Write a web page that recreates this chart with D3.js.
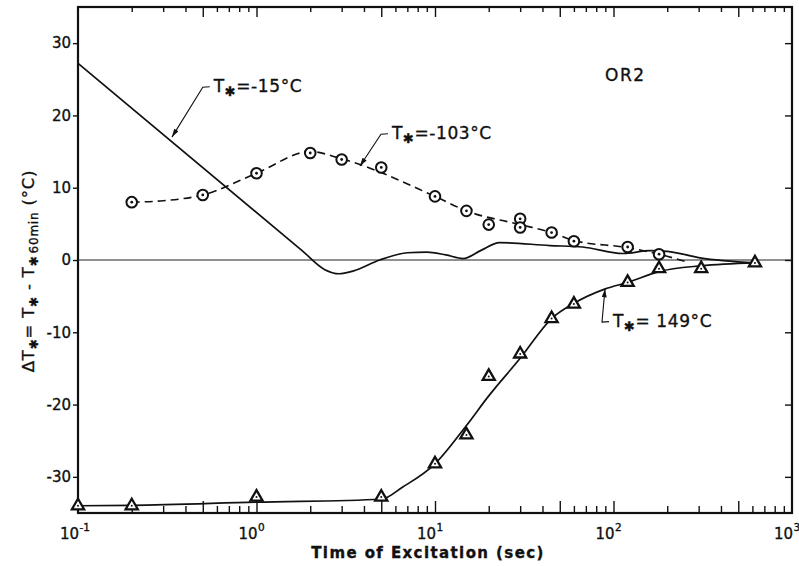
<!DOCTYPE html>
<html>
<head>
<meta charset="utf-8">
<script src="https://cdn.jsdelivr.net/npm/d3@7"></script>
<style>
  body { margin: 0; background: #fff; }
  text { font-family: "DejaVu Sans", sans-serif; fill: #111; stroke: #111; stroke-width: 0.35px; }
</style>
</head>
<body>
<svg id="chart" width="799" height="566"></svg>
<script>
// axis setup
const xDomain = [0.1, 1000];
const yDomain = [-35, 35];
const yTickValues = [-30, -20, -10, 0, 10, 20, 30];
const xDecades = [0.1, 1, 10, 100, 1000];
const xDecadeExp = ["-1", "0", "1", "2", "3"];

// T* = 149 C : triangles + solid curve
const triTimes  = [0.1, 0.2, 1, 5, 10, 15, 20, 30, 45, 60, 120, 180, 310, 620];
const triValues = [-34, -34, -32.8, -32.8, -28.2, -24.2, -16.1, -13, -8.1, -6.1, -3.1, -1.2, -1.2, -0.4];
const triCurveTimes  = [0.1, 0.2, 1, 5, 6.6, 10, 15, 20, 30, 45, 60, 90, 120, 180, 310, 620];
const triCurveValues = [-34, -33.95, -33.5, -33.1, -31.4, -28.2, -22.9, -18.8, -13.6, -8.1, -6, -4, -3.1, -1.6, -0.8, -0.4];

// T* = -103 C : circles + dashed curve
const circTimes  = [0.2, 0.5, 1, 2, 3, 5, 10, 15, 20, 30, 30, 45, 60, 120, 180];
const circValues = [8, 9, 12, 14.8, 13.9, 12.8, 8.8, 6.8, 4.9, 5.7, 4.5, 3.8, 2.6, 1.8, 0.8];
const circCurveTimes  = [0.2, 0.3, 0.5, 1, 2, 3, 10, 15, 30, 45, 60, 120, 180, 260];
const circCurveValues = [8, 8.2, 9, 12, 15, 14, 8.8, 6.8, 4.9, 3.8, 2.7, 1.7, 0.8, -0.3];

// T* = -15 C : solid curve only
const warmTimes  = [0.1, 1.8, 2.4, 2.9, 3.5, 4.9, 7, 9, 11.5, 14.4, 18, 23, 44, 67, 113, 160, 200, 305, 620];
const warmValues = [27.2, 1.3, -1.3, -1.9, -1.5, 0, 1.0, 1.1, 0.7, 0.2, 1.3, 2.4, 2.0, 1.8, 0.9, 1.3, 1.2, 0.3, -0.4];

// labels with leader lines
const annoText  = ["=-15°C", "=-103°C", "= 149°C"];
const annoTip   = [[0.336, 17.0], [3.8, 13.0], [89.6, -4.0]];
const annoElbow = [[0.50, 23.9], [4.98, 17.4], [86.2, -8.6]];

const svg = d3.select("#chart");

const x = d3.scaleLog().domain(xDomain).range([78, 792]);
const y = d3.scaleLinear().domain(yDomain).range([513, 7]);

const defs = svg.append("defs");
defs.append("marker")
    .attr("id", "arrow")
    .attr("viewBox", "0 0 10 6")
    .attr("refX", 10).attr("refY", 3)
    .attr("markerWidth", 9).attr("markerHeight", 5)
    .attr("markerUnits", "userSpaceOnUse")
    .attr("orient", "auto")
    .append("path")
    .attr("d", "M0,0 L10,3 L0,6 z")
    .attr("fill", "#111");

// ---- ticks ----
function mant(v) {
    return Math.round(v / Math.pow(10, Math.floor(Math.log10(v) + 1e-9)));
}
let allTicks = x.ticks().filter(v => v > xDomain[0] && v < xDomain[1]);
let longTicks = allTicks.filter(v => mant(v) == 1 || mant(v) == 5);
let shortTicks = allTicks.filter(v => mant(v) != 1 && mant(v) != 5);

function tickAxis(axisFn, vals, size, tx, ty) {
    let g = svg.append("g")
        .attr("transform", `translate(${tx},${ty})`)
        .call(axisFn(x).tickValues(vals).tickSize(size).tickFormat(""));
    g.select(".domain").remove();
    g.selectAll("line").attr("stroke", "#111").attr("stroke-width", 1.4);
    return g;
}
// bottom ticks point up, top ticks point down
tickAxis(d3.axisTop, shortTicks, 7, 0, y(-35));
tickAxis(d3.axisTop, longTicks, 12, 0, y(-35));
tickAxis(d3.axisBottom, shortTicks, 5, 0, y(35));
tickAxis(d3.axisBottom, longTicks, 10, 0, y(35));

// y axis left
let yl = svg.append("g")
    .attr("transform", `translate(${x(0.1)},0)`)
    .call(d3.axisLeft(y).tickValues(yTickValues).tickSize(5).tickPadding(2)
        .tickFormat(d => d));
yl.select(".domain").remove();
yl.selectAll("line").attr("stroke", "#111").attr("stroke-width", 1.4);
yl.selectAll("text")
    .style("font-size", "15px")
    .style("font-family", '"DejaVu Sans", sans-serif')
    .attr("fill", "#111");

// y axis right, inward ticks
let yr = svg.append("g")
    .attr("transform", `translate(${x(1000)},0)`)
    .call(d3.axisLeft(y).tickValues(yTickValues).tickSize(7).tickFormat(""));
yr.select(".domain").remove();
yr.selectAll("line").attr("stroke", "#111").attr("stroke-width", 1.4);

// decade labels
let xl = svg.append("g");
xDecades.forEach((d, i) => {
    xl.append("text")
        .attr("x", x(d) + 1).attr("y", 539)
        .attr("text-anchor", "end")
        .style("font-size", "15px")
        .text("10");
    xl.append("text")
        .attr("x", x(d) + 1.5).attr("y", 531)
        .style("font-size", "10.5px")
        .text(xDecadeExp[i]);
});

// frame
svg.append("rect")
    .attr("x", x(0.1)).attr("y", y(35))
    .attr("width", x(1000) - x(0.1)).attr("height", y(-35) - y(35))
    .attr("fill", "none").attr("stroke", "#111").attr("stroke-width", 2.2);

// zero line
svg.append("line")
    .attr("x1", x(0.1)).attr("x2", x(1000))
    .attr("y1", y(0)).attr("y2", y(0))
    .attr("stroke", "#222").attr("stroke-width", 1);

// ---- curves ----
let line = d3.line()
    .x(d => x(d[0]))
    .y(d => y(d[1]))
    .curve(d3.curveMonotoneX);

svg.append("path")
    .datum(d3.zip(warmTimes, warmValues))
    .attr("d", line)
    .attr("fill", "none").attr("stroke", "#111").attr("stroke-width", 1.7);

svg.append("path")
    .datum(d3.zip(circCurveTimes, circCurveValues))
    .attr("d", line)
    .attr("fill", "none").attr("stroke", "#111").attr("stroke-width", 1.6)
    .attr("stroke-dasharray", "8,5");

svg.append("path")
    .datum(d3.zip(triCurveTimes, triCurveValues))
    .attr("d", line)
    .attr("fill", "none").attr("stroke", "#111").attr("stroke-width", 1.7);

// ---- markers ----
let circ = svg.append("g").selectAll("g")
    .data(d3.zip(circTimes, circValues))
    .join("g")
    .attr("transform", d => `translate(${x(d[0])},${y(d[1])})`);
circ.append("circle").attr("r", 5.3)
    .attr("fill", "#fff").attr("stroke", "#111").attr("stroke-width", 2);
circ.append("circle").attr("r", 1.4).attr("fill", "#111");

let tri = svg.append("g").selectAll("g")
    .data(d3.zip(triTimes, triValues))
    .join("g")
    .attr("transform", d => `translate(${x(d[0])},${y(d[1])})`);
tri.append("path")
    .attr("d", d3.symbol(d3.symbolTriangle, 64))
    .attr("fill", "#fff").attr("stroke", "#111").attr("stroke-width", 2.3);
tri.append("circle").attr("r", 1).attr("fill", "#111");

// ---- annotations ----
annoText.forEach((t, i) => {
    let tx = x(annoTip[i][0]), ty = y(annoTip[i][1]);
    let ex = x(annoElbow[i][0]), ey = y(annoElbow[i][1]);
    svg.append("path")
        .attr("d", `M${ex + 7},${ey - 0.5} L${ex},${ey} L${tx},${ty}`)
        .attr("fill", "none").attr("stroke", "#111").attr("stroke-width", 1.1)
        .attr("marker-end", "url(#arrow)");
    let lab = svg.append("text")
        .attr("x", ex + 11).attr("y", ey + 5)
        .style("font-size", "17px")
        .style("letter-spacing", "0.6px");
    lab.append("tspan").text("T");
    lab.append("tspan").attr("dy", 4).style("font-size", "13px").text("✱");
    lab.append("tspan").attr("dy", -4).text(t);
});

svg.append("text")
    .attr("x", 605).attr("y", 81)
    .style("font-size", "17px")
    .style("letter-spacing", "1.5px")
    .text("OR2");

// axis titles
svg.append("text")
    .attr("x", 428).attr("y", 558)
    .attr("text-anchor", "middle")
    .style("font-size", "15px")
    .style("font-weight", "bold")
    .style("letter-spacing", "1.4px")
    .text("Time of Excitation (sec)");

let yt = svg.append("text")
    .attr("transform", "translate(34,271) rotate(-90)")
    .attr("text-anchor", "middle")
    .style("font-size", "16.5px")
    .style("letter-spacing", "0.8px");
yt.append("tspan").text("ΔT");
yt.append("tspan").attr("dy", 4).style("font-size", "12px").text("✱");
yt.append("tspan").attr("dy", -4).text("= T");
yt.append("tspan").attr("dy", 4).style("font-size", "12px").text("✱");
yt.append("tspan").attr("dy", -4).text(" - T");
yt.append("tspan").attr("dy", 4).style("font-size", "12px").text("✱");
yt.append("tspan").attr("dx", 2).style("font-size", "12px").text("60min");
yt.append("tspan").attr("dy", -4).text(" (°C)");
</script>
</body>
</html>
